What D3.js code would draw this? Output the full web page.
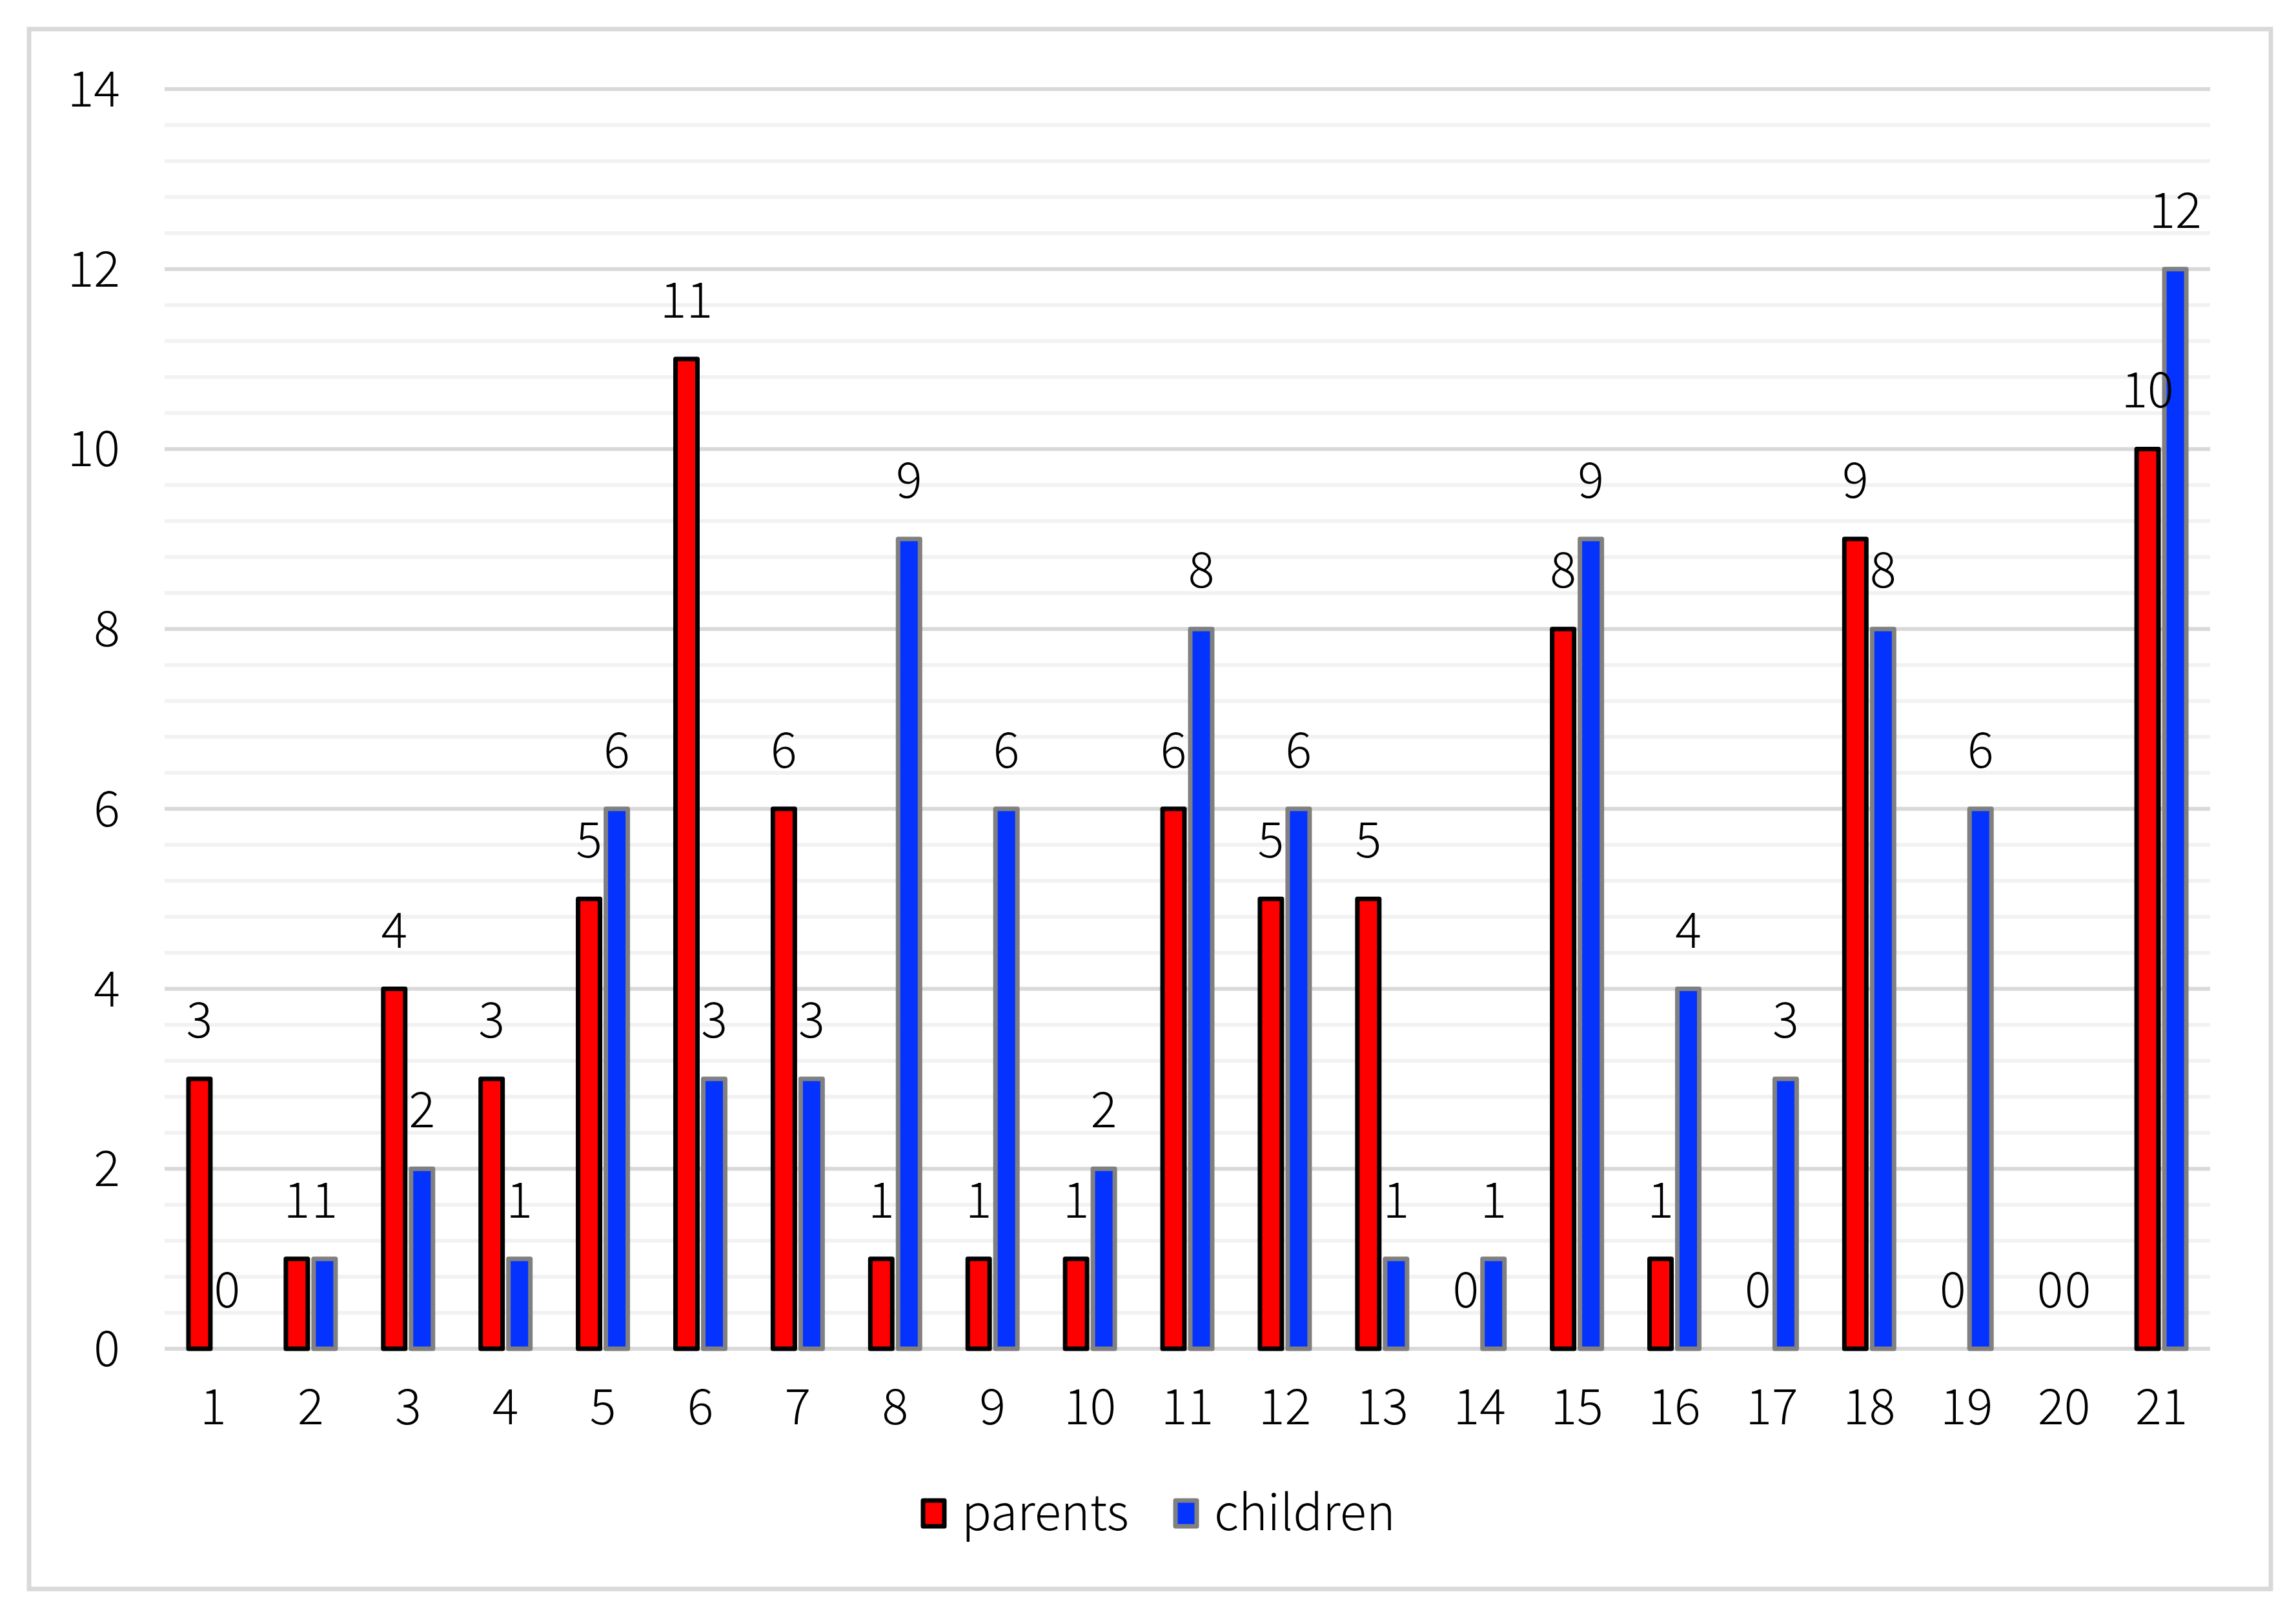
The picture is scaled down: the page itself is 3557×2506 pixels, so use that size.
<!DOCTYPE html>
<html>
<head>
<meta charset="utf-8">
<script src="https://cdn.jsdelivr.net/npm/d3@7"></script>
<style>
  body { margin: 0; background: #fff; }
  text { font-family: "Noto Sans CJK SC", "Liberation Sans", sans-serif; font-weight: 300; fill: #000; }
</style>
</head>
<body>
<svg id="chart"></svg>
<script>
const width = 3557, height = 2506;

// data
const categories = ["1","2","3","4","5","6","7","8","9","10","11","12","13","14","15","16","17","18","19","20","21"];
const parents  = [3, 1, 4, 3, 5, 11, 6, 1, 1, 1, 6, 5, 5, 0, 8, 1, 0, 9, 0, 0, 10];
const children = [0, 1, 2, 1, 6, 3, 3, 9, 6, 2, 8, 6, 1, 1, 9, 4, 3, 8, 6, 0, 12];
const yTicks = [0, 2, 4, 6, 8, 10, 12, 14];
const seriesNames = ["parents", "children"];

const fill   = { parents: "#FF0000", children: "#0433FF" };
const stroke = { parents: "#000000", children: "#808080" };
const fontSize = "76px";

let svg = d3.select("#chart")
  .attr("width", width)
  .attr("height", height);

svg.append("rect")
  .attr("width", width).attr("height", height)
  .attr("fill", "#fff");

// outer chart border
svg.append("rect")
  .attr("x", 45).attr("y", 45)
  .attr("width", 3473).attr("height", 2416)
  .attr("fill", "none")
  .attr("stroke", "#D9D9D9")
  .attr("stroke-width", 7);

const x = d3.scaleBand()
  .domain(categories)
  .range([255, 3424]);

const y = d3.scaleLinear()
  .domain([0, 14])
  .range([2089, 138]);

// minor gridlines every 0.4
const minor = d3.range(0, 14.001, 0.4).filter(v => Math.abs(v / 2 - Math.round(v / 2)) > 1e-6);

svg.selectAll(".minor")
  .data(minor)
  .join("line")
  .attr("x1", x.range()[0]).attr("x2", x.range()[1])
  .attr("y1", d => y(d)).attr("y2", d => y(d))
  .attr("stroke", "#F2F2F2")
  .attr("stroke-width", 6);

svg.selectAll(".major")
  .data(yTicks)
  .join("line")
  .attr("x1", x.range()[0]).attr("x2", x.range()[1])
  .attr("y1", d => y(d)).attr("y2", d => y(d))
  .attr("stroke", "#D9D9D9")
  .attr("stroke-width", 6);

// y labels
svg.selectAll(".ylab")
  .data(yTicks)
  .join("text")
  .attr("x", 186)
  .attr("y", d => y(d) + 27)
  .attr("text-anchor", "end")
  .style("font-size", fontSize)
  .text(d => d);

// x labels
svg.selectAll(".xlab")
  .data(categories)
  .join("text")
  .attr("x", d => x(d) + x.bandwidth() / 2)
  .attr("y", 2206)
  .attr("text-anchor", "middle")
  .style("font-size", fontSize)
  .text(d => d);

// bars
const barW = 34, offset = 21.5;
const rows = [];
categories.forEach(function (c, i) {
  rows.push({ cat: c, series: "parents", value: parents[i], dx: -offset });
  rows.push({ cat: c, series: "children", value: children[i], dx: offset });
});

svg.selectAll(".bar")
  .data(rows.filter(d => d.value > 0))
  .join("rect")
  .attr("x", d => x(d.cat) + x.bandwidth() / 2 + d.dx - barW / 2)
  .attr("y", d => y(d.value))
  .attr("width", barW)
  .attr("height", d => y(0) - y(d.value))
  .attr("fill", d => fill[d.series])
  .attr("stroke", d => stroke[d.series])
  .attr("stroke-width", 7)
  .attr("stroke-linejoin", "round");

// value labels
svg.selectAll(".vlab")
  .data(rows)
  .join("text")
  .attr("x", d => x(d.cat) + x.bandwidth() / 2 + d.dx)
  .attr("y", d => y(d.value) - 64)
  .attr("text-anchor", "middle")
  .style("font-size", fontSize)
  .text(d => d.value);

// legend
const legendX = [1430, 1821];
seriesNames.forEach(function (s, i) {
  svg.append("rect")
    .attr("x", legendX[i]).attr("y", 2324)
    .attr("width", 33).attr("height", 40)
    .attr("fill", fill[s])
    .attr("stroke", stroke[s])
    .attr("stroke-width", 7)
    .attr("stroke-linejoin", "round");
  svg.append("text")
    .attr("x", legendX[i] + 60)
    .attr("y", 2370)
    .style("font-size", fontSize)
    .text(s);
});
</script>
</body>
</html>
